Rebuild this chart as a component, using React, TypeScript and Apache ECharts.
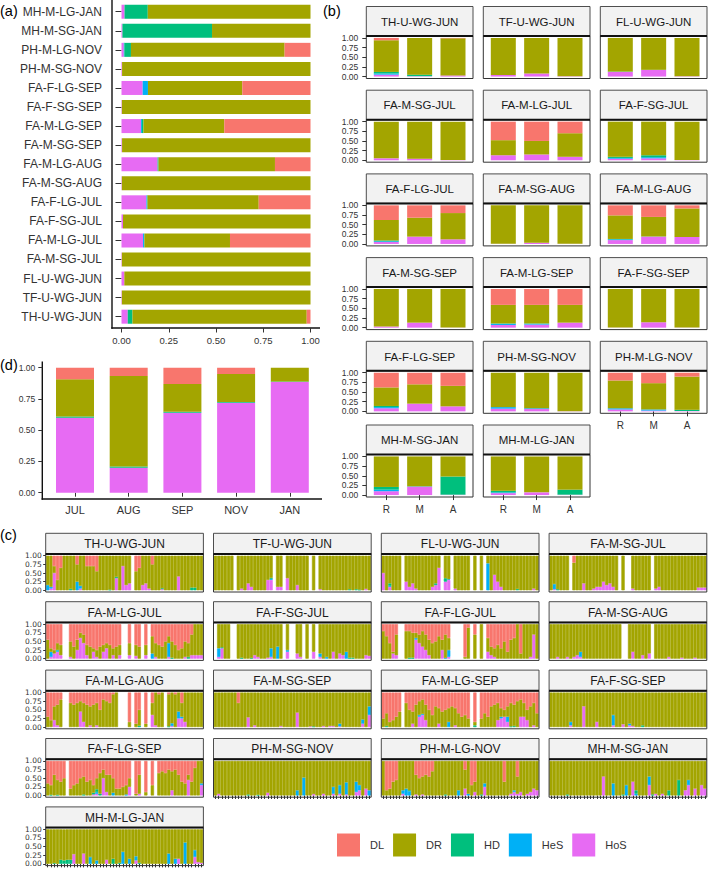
import React, { useEffect, useRef } from 'react';
import * as echarts from 'echarts';

type Pt = [number, number];

const FONT = "'Liberation Sans', Arial, Helvetica, sans-serif";
const INK = '#333333';

// behaviour classes, legend order, and their fill colours
const classes = ['DL', 'DR', 'HD', 'HeS', 'HoS'];
const classColors = ['#F8766D', '#A3A500', '#00BF7D', '#00B0F6', '#E76BF3'];
// stacking order, bottom to top
const stackOrder = ['HoS', 'HeS', 'HD', 'DR', 'DL'];

const groups = [
  'TH-U-WG-JUN', 'TF-U-WG-JUN', 'FL-U-WG-JUN', 'FA-M-SG-JUL', 'FA-M-LG-JUL', 'FA-F-SG-JUL',
  'FA-F-LG-JUL', 'FA-M-SG-AUG', 'FA-M-LG-AUG', 'FA-M-SG-SEP', 'FA-M-LG-SEP', 'FA-F-SG-SEP',
  'FA-F-LG-SEP', 'PH-M-SG-NOV', 'PH-M-LG-NOV', 'MH-M-SG-JAN', 'MH-M-LG-JAN',
];

// (a) overall share per group
const aHoS = [0.033, 0.002, 0.015, 0.002, 0.114, 0.008, 0.132, 0.002, 0.191, 0.003, 0.103, 0.002, 0.112, 0.003, 0.012, 0.005, 0.016];
const aHeS = [0, 0, 0, 0, 0.007, 0, 0.003, 0, 0, 0, 0.005, 0, 0.028, 0, 0.003, 0, 0];
const aHD = [0.025, 0, 0, 0, 0, 0, 0.003, 0, 0.005, 0, 0.008, 0, 0, 0, 0.035, 0.474, 0.123];
const aDR = [0.922, 0.998, 0.985, 0.998, 0.453, 0.992, 0.588, 0.998, 0.616, 0.997, 0.428, 0.998, 0.499, 0.997, 0.813, 0.521, 0.861];
const aDL = [0.02, 0, 0, 0, 0.426, 0, 0.274, 0, 0.188, 0, 0.456, 0, 0.361, 0, 0.137, 0, 0];

// (d) share per month
const months = ['JUL', 'AUG', 'SEP', 'NOV', 'JAN'];
const dHoS = [0.6, 0.2, 0.64, 0.72, 0.885];
const dHeS = [0, 0, 0, 0, 0];
const dHD = [0.01, 0.01, 0.007, 0.005, 0.005];
const dDR = [0.297, 0.723, 0.222, 0.224, 0.11];
const dDL = [0.093, 0.067, 0.131, 0.051, 0];

// (b) share per group and phase (R, M, A)
const phases = ['R', 'M', 'A'];
const bHoS = [[0.05, 0.01, 0.03], [0.04, 0.08, 0.01], [0.12, 0.17, 0.01], [0.05, 0.04, 0.01], [0.13, 0.15, 0.09], [0.04, 0.05, 0.01], [0.05, 0.19, 0.12], [0.005, 0.03, 0.005], [0.1, 0.19, 0.18], [0.03, 0.13, 0.005], [0.07, 0.08, 0.13], [0.005, 0.14, 0.005], [0.08, 0.2, 0.13], [0.07, 0.06, 0.005], [0.05, 0.02, 0.01], [0.1, 0.22, 0.01], [0.05, 0.07, 0.01]];
const bHeS = [[0.03, 0, 0], [0, 0, 0], [0, 0, 0], [0, 0, 0], [0, 0, 0], [0.02, 0.03, 0], [0.02, 0, 0], [0, 0, 0], [0.02, 0, 0], [0, 0, 0], [0.03, 0.02, 0], [0, 0, 0], [0.03, 0, 0], [0.04, 0.02, 0], [0.03, 0.03, 0], [0.04, 0, 0], [0.02, 0, 0]];
const bHD = [[0.04, 0.04, 0], [0, 0, 0], [0.01, 0.005, 0], [0, 0, 0], [0, 0, 0], [0.03, 0.05, 0], [0.02, 0, 0], [0, 0, 0], [0.01, 0.005, 0], [0, 0, 0], [0.01, 0.01, 0], [0, 0, 0], [0.03, 0, 0], [0, 0, 0], [0, 0, 0.03], [0.07, 0.01, 0.47], [0.04, 0, 0.13]];
const bDR = [[0.82, 0.95, 0.96], [0.96, 0.92, 0.99], [0.87, 0.825, 0.99], [0.95, 0.96, 0.99], [0.39, 0.35, 0.61], [0.91, 0.87, 0.99], [0.53, 0.49, 0.68], [0.995, 0.97, 0.995], [0.61, 0.505, 0.74], [0.97, 0.87, 0.995], [0.48, 0.48, 0.46], [0.995, 0.86, 0.995], [0.48, 0.5, 0.53], [0.89, 0.92, 0.995], [0.72, 0.68, 0.86], [0.79, 0.77, 0.52], [0.89, 0.93, 0.86]];
const bDL = [[0.06, 0, 0.01], [0, 0, 0], [0, 0, 0], [0, 0, 0], [0.48, 0.5, 0.3], [0, 0, 0], [0.38, 0.32, 0.2], [0, 0, 0], [0.26, 0.3, 0.08], [0, 0, 0], [0.41, 0.41, 0.41], [0, 0, 0], [0.38, 0.3, 0.34], [0, 0, 0], [0.2, 0.27, 0.1], [0, 0, 0], [0, 0, 0]];

// (c) per-observation shares: 48 observations per group, [index, share]; DR is the remainder
const OBS = 48;
const cMissing: number[][] = [
  [26], [6, 18, 21, 29, 31], [6, 18, 21, 27, 29, 31], [6, 21, 23, 24, 31],
  [5, 6, 23, 24, 26, 29, 31], [0, 5, 6, 21, 23, 24, 27, 29, 31], [5, 6, 21, 22, 23, 24, 27, 29, 31], [22, 23, 31],
  [5, 6, 22, 23, 24, 26, 29, 31, 36], [], [6, 27, 29], [],
  [6, 26, 29, 31, 33], [], [], [], [],
];
const cDL: Pt[][] = [
  [[2, 0.3], [3, 0.7], [4, 0.35], [9, 0.25], [12, 0.3], [13, 0.3], [14, 0.3], [15, 0.45], [27, 0.45], [28, 0.35], [32, 0.25]],
  [],
  [],
  [[7, 0.2]],
  [[0, 0.45], [1, 0.7], [2, 0.75], [3, 0.55], [4, 0.6], [7, 0.5], [8, 0.65], [9, 0.45], [10, 0.25], [11, 0.3], [12, 0.6], [13, 0.65], [14, 0.7], [15, 0.75], [16, 0.65], [17, 0.6], [18, 0.55], [19, 0.6], [20, 0.7], [21, 0.65], [22, 0.6], [25, 0.55], [27, 0.6], [28, 0.65], [30, 0.6], [32, 0.35], [33, 0.55], [34, 0.6], [35, 0.65], [36, 0.5], [37, 0.35], [38, 0.5], [39, 0.6], [40, 0.75], [41, 0.7], [42, 0.5], [43, 0.55], [44, 0.3]],
  [],
  [[0, 0.2], [1, 0.35], [2, 0.55], [3, 0.8], [4, 0.3], [7, 0.2], [8, 0.2], [9, 0.25], [10, 0.25], [11, 0.3], [12, 0.2], [13, 0.3], [14, 0.45], [15, 0.55], [16, 0.5], [17, 0.35], [18, 0.45], [19, 0.3], [20, 0.4], [25, 0.95], [26, 0.1], [28, 0.3], [32, 0.4], [33, 0.65], [34, 0.7], [35, 0.6], [36, 0.7], [37, 0.5], [38, 0.8], [39, 0.45], [40, 0.4], [42, 0.85]],
  [],
  [[0, 0.7], [1, 0.8], [2, 0.4], [3, 0.35], [4, 0.2], [7, 0.3], [8, 0.35], [9, 0.3], [10, 0.25], [11, 0.3], [12, 0.35], [13, 0.4], [14, 0.35], [15, 0.3], [16, 0.5], [17, 0.2], [18, 0.25], [19, 0.3], [20, 0.05], [25, 0.85], [27, 0.9], [28, 0.5], [30, 0.9], [32, 0.3], [34, 0.05], [37, 0.05], [39, 0.05], [41, 0.3]],
  [[7, 0.3]],
  [[0, 0.75], [1, 0.6], [2, 0.85], [3, 0.8], [4, 0.7], [5, 0.55], [7, 0.3], [8, 0.5], [9, 0.55], [10, 0.35], [11, 0.25], [12, 0.2], [13, 0.35], [14, 0.5], [15, 0.65], [16, 0.4], [17, 0.45], [18, 0.55], [19, 0.5], [20, 0.45], [21, 0.4], [22, 0.45], [23, 0.6], [24, 0.7], [25, 0.65], [26, 0.75], [28, 0.85], [30, 0.75], [31, 0.6], [32, 0.7], [33, 0.4], [34, 0.35], [35, 0.3], [36, 0.45], [37, 0.5], [38, 0.4], [39, 0.3], [40, 0.35], [41, 0.25], [42, 0.2], [43, 0.3], [44, 0.5], [45, 0.4], [46, 0.3], [47, 0.6]],
  [],
  [[0, 0.65], [1, 0.7], [2, 0.4], [3, 0.55], [4, 0.6], [5, 0.5], [7, 0.8], [8, 0.7], [9, 0.65], [10, 0.5], [11, 0.45], [12, 0.6], [13, 0.55], [14, 0.7], [15, 0.5], [16, 0.35], [17, 0.25], [18, 0.4], [19, 0.4], [20, 0.5], [21, 0.8], [22, 0.8], [23, 0.75], [24, 0.7], [25, 0.5], [27, 0.95], [28, 0.4], [30, 0.9], [32, 0.7], [34, 0.35], [35, 0.3], [36, 0.35], [37, 0.25], [38, 0.3], [39, 0.25], [40, 0.4], [41, 0.6], [42, 0.65], [43, 0.4], [44, 0.6], [45, 0.2]],
  [],
  [[1, 0.85], [2, 0.8], [3, 0.6], [4, 0.55], [10, 0.4], [11, 0.5], [12, 0.45], [13, 0.4], [14, 0.45], [15, 0.3], [25, 0.25], [27, 0.7], [28, 0.6], [37, 0.6], [41, 0.45]],
  [],
  [],
];
const cHoS: Pt[][] = [
  [[1, 0.05], [2, 0.5], [10, 0.05], [21, 0.35], [23, 0.7], [24, 0.15], [25, 0.2], [29, 0.15], [30, 0.2], [31, 0.05], [35, 0.03], [40, 0.4]],
  [[8, 0.05], [10, 0.2], [11, 0.1], [16, 0.3], [17, 0.3], [19, 0.1], [20, 0.1], [22, 0.35], [25, 0.15], [32, 0.03], [46, 0.04]],
  [[0, 0.5], [2, 0.1], [7, 0.25], [8, 0.1], [9, 0.2], [10, 0.05], [15, 0.1], [16, 0.15], [17, 0.65], [19, 0.25], [20, 0.3], [22, 0.05], [34, 0.45], [35, 0.25], [36, 0.1], [46, 0.05]],
  [[1, 0.03], [10, 0.2], [13, 0.05], [14, 0.1], [15, 0.1], [16, 0.25], [17, 0.15], [18, 0.2], [19, 0.1], [25, 0.05], [32, 0.05], [33, 0.1], [45, 0.08], [46, 0.08], [47, 0.08]],
  [[1, 0.05], [2, 0.15], [3, 0.2], [4, 0.1], [7, 0.05], [9, 0.25], [10, 0.6], [11, 0.45], [12, 0.1], [14, 0.2], [15, 0.05], [17, 0.2], [18, 0.3], [20, 0.1], [22, 0.1], [25, 0.1], [27, 0.08], [30, 0.1], [33, 0.05], [37, 0.05], [42, 0.05], [44, 0.1], [45, 0.1], [46, 0.1], [47, 0.1]],
  [[1, 0.05], [2, 0.3], [12, 0.1], [13, 0.05], [16, 0.03], [17, 0.05], [22, 0.2], [25, 0.15], [26, 0.05], [30, 0.2], [32, 0.05], [36, 0.2], [38, 0.15], [39, 0.1], [46, 0.1], [47, 0.08]],
  [[3, 0.15], [4, 0.1], [10, 0.55], [11, 0.45], [12, 0.35], [13, 0.25], [14, 0.1], [18, 0.25], [20, 0.05], [32, 0.2], [33, 0.1], [34, 0.05], [45, 0.05], [46, 0.7]],
  [[2, 0.05], [5, 0.05], [7, 0.05], [8, 0.1], [9, 0.05], [25, 0.2], [28, 0.1], [30, 0.15], [36, 0.05], [40, 0.03], [44, 0.03]],
  [[2, 0.2], [3, 0.05], [10, 0.45], [11, 0.15], [13, 0.05], [15, 0.05], [32, 0.35], [33, 0.05], [38, 0.03], [40, 0.25], [41, 0.25], [42, 0.15]],
  [[10, 0.28], [12, 0.05], [20, 0.03], [25, 0.42], [29, 0.02], [33, 0.03], [35, 0.03], [36, 0.03], [38, 0.02], [45, 0.1], [47, 0.35]],
  [[9, 0.1], [11, 0.3], [12, 0.35], [13, 0.2], [17, 0.1], [22, 0.05], [35, 0.2], [36, 0.25], [37, 0.3], [38, 0.15], [42, 0.3], [43, 0.3], [44, 0.2], [46, 0.05]],
  [[6, 0.05], [10, 0.6], [14, 0.15], [19, 0.05], [22, 0.08], [24, 0.05], [25, 0.03]],
  [[14, 0.03], [15, 0.05], [17, 0.5], [18, 0.1], [25, 0.25], [28, 0.05], [38, 0.15], [43, 0.45], [47, 0.3]],
  [[1, 0.05], [16, 0.08], [30, 0.04], [33, 0.05], [36, 0.05], [38, 0.05], [40, 0.03], [43, 0.1], [44, 0.15], [46, 0.2]],
  [[6, 0.05], [10, 0.03], [12, 0.03], [25, 0.2], [28, 0.1], [31, 0.25], [39, 0.05], [40, 0.1], [41, 0.05], [42, 0.1], [44, 0.05], [45, 0.1], [46, 0.2], [47, 0.15]],
  [[16, 0.55], [25, 0.4], [30, 0.3], [32, 0.05], [34, 0.05], [41, 0.15], [42, 0.3], [44, 0.2], [46, 0.3], [47, 0.2]],
  [[8, 0.28], [11, 0.3], [18, 0.12], [27, 0.1], [40, 0.15], [45, 0.2], [46, 0.05], [47, 0.03]],
];
const cHeS: Pt[][] = [
  [[0, 0.15], [1, 0.05], [9, 0.25], [10, 0.08]],
  [[17, 0.03]],
  [[2, 0.03], [20, 0.02], [32, 0.78]],
  [[1, 0.15]],
  [[1, 0.15], [3, 0.05], [32, 0.15], [37, 0.4]],
  [[1, 0.25], [17, 0.25], [19, 0.35], [22, 0.05], [32, 0.1], [34, 0.05], [40, 0.2]],
  [[10, 0.05], [19, 0.02], [20, 0.2]],
  [[9, 0.15]],
  [[38, 0.08], [40, 0.2], [41, 0.05]],
  [[38, 0.08], [45, 0.12], [47, 0.25]],
  [[11, 0.05], [12, 0.03], [20, 0.15], [36, 0.05], [38, 0.15]],
  [[6, 0.1], [19, 0.3], [24, 0.05]],
  [[15, 0.05], [20, 0.08], [24, 0.03], [47, 0.05]],
  [[25, 0.15], [27, 0.52], [36, 0.2], [38, 0.25], [40, 0.35], [43, 0.3], [44, 0.15], [47, 0.15]],
  [[6, 0.1], [7, 0.2], [8, 0.12], [23, 0.15], [26, 0.05], [31, 0.1], [40, 0.05]],
  [[19, 0.35], [23, 0.3], [26, 0.05], [30, 0.25], [42, 0.15]],
  [[13, 0.2], [15, 0.1], [23, 0.35], [25, 0.15], [27, 0.12], [37, 0.3], [39, 0.15], [42, 0.62], [45, 0.2]],
];
const cHD: Pt[][] = [
  [[7, 0.04], [19, 0.02], [21, 0.04], [35, 0.03], [44, 0.08], [45, 0.08]],
  [[17, 0.03], [41, 0.03], [43, 0.03], [44, 0.02]],
  [[2, 0.07], [16, 0.05], [19, 0.1], [41, 0.04]],
  [[2, 0.03]],
  [[38, 0.03], [43, 0.05]],
  [[2, 0.03], [8, 0.03], [11, 0.02], [41, 0.03], [42, 0.03]],
  [[8, 0.03], [9, 0.03]],
  [],
  [[28, 0.04], [37, 0.02]],
  [[30, 0.02]],
  [[1, 0.03], [28, 0.05], [39, 0.02], [40, 0.03]],
  [[28, 0.05]],
  [[1, 0.02], [3, 0.02], [11, 0.03], [14, 0.05], [15, 0.08], [16, 0.05]],
  [[10, 0.03], [13, 0.02]],
  [[8, 0.03], [19, 0.03], [30, 0.03]],
  [[5, 0.03], [22, 0.03], [26, 0.1], [31, 0.03], [36, 0.15], [39, 0.45]],
  [[2, 0.02], [4, 0.12], [5, 0.1], [6, 0.12], [7, 0.12], [20, 0.15], [22, 0.03], [28, 0.03]],
];

const colorOf = (name: string) => classColors[classes.indexOf(name)];
const fmt2 = (v: number) => v.toFixed(2);

// dense shares for one facet of (c); absent observations stay null
function expand(pairs: Pt[], missing: number[]): (number | null)[] {
  const out: (number | null)[] = new Array(OBS).fill(0);
  pairs.forEach(([i, v]) => { out[i] = v; });
  missing.forEach((i) => { out[i] = null; });
  return out;
}
const dropZero = (arr: (number | null)[]) => arr.map((v) => (v === 0 ? null : v));

function buildOption() {
  const grid: any[] = [];
  const xAxis: any[] = [];
  const yAxis: any[] = [];
  const series: any[] = [];
  const graphic: any[] = [];
  const label = (o: any) => ({ color: INK, fontFamily: FONT, ...o });

  const addStack = (gi: number, data: Record<string, (number | null)[]>, barWidth: any, seamless = false) => {
    stackOrder.forEach((name) => {
      const c = colorOf(name);
      series.push({
        type: 'bar', name, xAxisIndex: gi, yAxisIndex: gi, stack: 'g' + gi,
        data: dropZero(data[name]), barWidth, silent: true,
        barCategoryGap: seamless ? '0%' : undefined,
        itemStyle: seamless ? { color: c, borderColor: c, borderWidth: 0.6 } : { color: c },
      });
    });
  };

  // ---- (a) horizontal stacked bars
  grid.push({ left: 121.5, top: 2.2, width: 189, height: 324 });
  xAxis.push({
    type: 'value', gridIndex: 0, min: 0, max: 1, interval: 0.25, offset: 1.8,
    axisLine: { show: false }, splitLine: { show: false },
    axisTick: { show: true, length: 4.5, lineStyle: { color: INK } },
    axisLabel: label({ formatter: fmt2, fontSize: 9.5, margin: 7 }),
  });
  yAxis.push({
    type: 'category', gridIndex: 0, data: groups, offset: 9.5,
    axisLine: { show: false },
    axisTick: { show: true, alignWithLabel: true, interval: 0, length: 6, lineStyle: { color: INK } },
    axisLabel: label({ fontSize: 12, margin: 10, interval: 0 }),
  });
  addStack(0, { HoS: aHoS, HeS: aHeS, HD: aHD, DR: aDR, DL: aDL }, 14);
  graphic.push(
    { type: 'line', shape: { x1: 112, y1: 0, x2: 112, y2: 328.7 }, style: { stroke: '#111', lineWidth: 1.4 } },
    { type: 'line', shape: { x1: 111.3, y1: 328, x2: 320, y2: 328 }, style: { stroke: '#111', lineWidth: 1.4 } },
  );

  // ---- (d) monthly stacked bars
  grid.push({ left: 48.15, top: 367.7, width: 268.5, height: 125 });
  xAxis.push({
    type: 'category', gridIndex: 1, data: months, offset: 6.3,
    axisLine: { show: false },
    axisTick: { show: true, alignWithLabel: true, length: 4, lineStyle: { color: INK } },
    axisLabel: label({ fontSize: 11, margin: 5 }),
  });
  yAxis.push({
    type: 'value', gridIndex: 1, min: 0, max: 1, interval: 0.25, offset: 5.85,
    axisLine: { show: false }, splitLine: { show: false },
    axisTick: { show: true, length: 4, lineStyle: { color: INK } },
    axisLabel: label({ formatter: fmt2, fontSize: 8.5, margin: 7 }),
  });
  addStack(1, { HoS: dHoS, HeS: dHeS, HD: dHD, DR: dDR, DL: dDL }, 38);
  graphic.push(
    { type: 'line', shape: { x1: 42.3, y1: 361.4, x2: 42.3, y2: 499.7 }, style: { stroke: '#111', lineWidth: 1.4 } },
    { type: 'line', shape: { x1: 41.6, y1: 499, x2: 322, y2: 499 }, style: { stroke: '#111', lineWidth: 1.4 } },
  );

  const strip = (x: number, y: number, w: number, h: number, text: string, fontSize: number) => {
    graphic.push(
      { type: 'rect', shape: { x, y, width: w, height: h }, style: { fill: '#F2F2F2', stroke: '#3a3a3a', lineWidth: 0.9 }, z: 50 },
      { type: 'text', x: x + w / 2, y: y + h / 2 + 0.5, style: { text, fontSize, fontFamily: FONT, fill: '#1a1a1a', align: 'center', verticalAlign: 'middle' }, z: 51 },
    );
  };
  const frame = (x: number, y: number, w: number, h: number) => {
    graphic.push(
      { type: 'rect', shape: { x, y, width: w, height: h }, style: { fill: 'none', stroke: '#333', lineWidth: 1 }, z: 100 },
      { type: 'line', shape: { x1: x, y1: y, x2: x + w, y2: y }, style: { stroke: '#111', lineWidth: 2 }, z: 101 },
    );
  };

  // ---- (b) facets: phase shares per group
  const B = { left0: 366.3, colPitch: 117, width: 106.7, top0: 6.5, rowPitch: 83.7, stripH: 29.5, plotH: 42.5 };
  groups.forEach((g, k) => {
    const col = k % 3;
    const row = Math.floor(k / 3);
    const x0 = B.left0 + col * B.colPitch;
    const sTop = B.top0 + row * B.rowPitch;
    const pTop = sTop + B.stripH;
    const unit = B.width / 3.2;
    const inset = unit * 0.1;
    const yPad = (B.plotH * 0.05) / 1.1;
    const gi = grid.length;
    const bottom = k >= 14;
    grid.push({ left: x0 + inset, top: pTop + yPad, width: B.width - 2 * inset, height: B.plotH / 1.1 });
    xAxis.push({
      type: 'category', gridIndex: gi, data: phases, offset: yPad,
      axisLine: { show: false },
      axisTick: { show: bottom, alignWithLabel: true, length: 5, lineStyle: { color: INK } },
      axisLabel: label({ show: bottom, fontSize: 10, margin: 7 }),
    });
    yAxis.push({
      type: 'value', gridIndex: gi, min: 0, max: 1, interval: 0.25, offset: inset,
      axisLine: { show: false }, splitLine: { show: false },
      axisTick: { show: col === 0, length: 4, lineStyle: { color: INK } },
      axisLabel: label({ show: col === 0, formatter: fmt2, fontSize: 8.5, margin: 8, showMinLabel: true, showMaxLabel: true }),
    });
    addStack(gi, { HoS: bHoS[k], HeS: bHeS[k], HD: bHD[k], DR: bDR[k], DL: bDL[k] }, 0.75 * unit);
    strip(x0, sTop, B.width, B.stripH, g, 11.5);
    frame(x0, pTop, B.width, B.plotH);
  });

  // ---- (c) facets: per-observation shares
  const C = { left0: 45.7, colPitch: 167.8, width: 157.7, top0: 533.3, rowPitch: 68.4, stripH: 20.7, plotH: 38 };
  const obsIds = Array.from({ length: OBS }, (_, i) => String(i + 1));
  groups.forEach((g, k) => {
    const col = k % 4;
    const row = Math.floor(k / 4);
    const x0 = C.left0 + col * C.colPitch;
    const sTop = C.top0 + row * C.rowPitch;
    const pTop = sTop + C.stripH;
    const unit = C.width / (OBS + 0.2);
    const inset = unit * 0.1;
    const yPad = (C.plotH * 0.05) / 1.1;
    const gi = grid.length;
    const bottom = k >= 13;
    grid.push({ left: x0 + inset, top: pTop + yPad, width: C.width - 2 * inset, height: C.plotH / 1.1 });
    xAxis.push({
      type: 'category', gridIndex: gi, data: obsIds, offset: yPad,
      axisLine: { show: false },
      axisTick: { show: bottom, alignWithLabel: true, interval: 0, length: 3.5, lineStyle: { color: INK } },
      axisLabel: { show: false },
    });
    yAxis.push({
      type: 'value', gridIndex: gi, min: 0, max: 1, interval: 0.25, offset: inset,
      axisLine: { show: false }, splitLine: { show: false },
      axisTick: { show: col === 0, length: 2.5, lineStyle: { color: INK } },
      axisLabel: {
        show: col === 0, formatter: fmt2, fontSize: 7.5, margin: 4, color: INK,
        fontFamily: "'DejaVu Sans', sans-serif", showMinLabel: true, showMaxLabel: true, hideOverlap: false,
      },
    });
    const miss = cMissing[k];
    const hos = expand(cHoS[k], miss);
    const hes = expand(cHeS[k], miss);
    const hd = expand(cHD[k], miss);
    const dl = expand(cDL[k], miss);
    const dr = hos.map((v, i) => (v === null ? null : +(1 - (v as number) - (hes[i] as number) - (hd[i] as number) - (dl[i] as number)).toFixed(3)));
    addStack(gi, { HoS: hos, HeS: hes, HD: hd, DR: dr, DL: dl }, '100%', true);
    strip(x0, sTop, C.width, C.stripH, g, 12);
    frame(x0, pTop, C.width, C.plotH);
  });

  // panel letters
  const letter = (text: string, x: number, y: number) =>
    graphic.push({ type: 'text', x, y, style: { text, fontSize: 14.5, fontFamily: FONT, fill: '#000', align: 'left', verticalAlign: 'middle' }, z: 60 });
  letter('(a)', 0, 11);
  letter('(b)', 323, 11);
  letter('(d)', 0, 365);
  letter('(c)', 0, 535);

  return {
    animation: false,
    backgroundColor: '#ffffff',
    textStyle: { fontFamily: FONT },
    grid,
    xAxis,
    yAxis,
    series,
    graphic,
    legend: {
      data: classes, left: 337, top: 833.5, padding: 0, orient: 'horizontal',
      itemWidth: 23, itemHeight: 23, itemGap: 9, icon: 'rect', selectedMode: false,
      textStyle: { fontSize: 11, color: INK, fontFamily: FONT, padding: [0, 0, 0, 5] },
    },
  };
}

export default function App() {
  const ref = useRef<HTMLDivElement>(null);
  useEffect(() => {
    if (!ref.current) return;
    const chart = echarts.init(ref.current, undefined, { renderer: 'svg' });
    chart.setOption(buildOption() as any);
    return () => chart.dispose();
  }, []);
  return <div ref={ref} style={{ position: 'fixed', left: 0, top: 0, width: 709, height: 871, background: '#fff' }} />;
}
